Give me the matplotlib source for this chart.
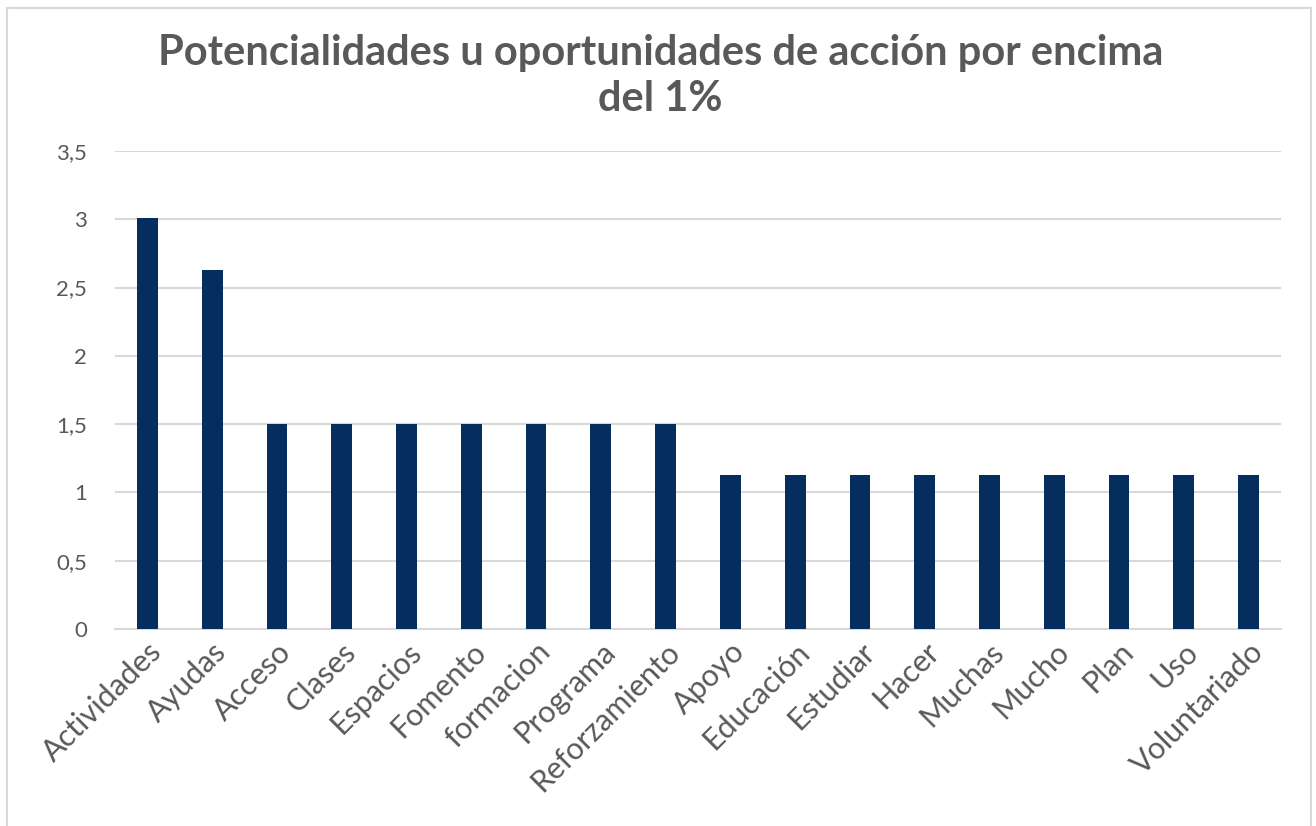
import numpy as np
import matplotlib.pyplot as plt
from matplotlib.patches import Rectangle
from matplotlib.ticker import FuncFormatter

categorias = ['Actividades', 'Ayudas', 'Acceso', 'Clases', 'Espacios', 'Fomento',
              'formacion', 'Programa', 'Reforzamiento', 'Apoyo', 'Educación',
              'Estudiar', 'Hacer', 'Muchas', 'Mucho', 'Plan', 'Uso', 'Voluntariado']
valores = [3.01, 2.63, 1.5, 1.5, 1.5, 1.5, 1.5, 1.5, 1.5,
           1.13, 1.13, 1.13, 1.13, 1.13, 1.13, 1.13, 1.13, 1.13]
ticks_y = [0, 0.5, 1, 1.5, 2, 2.5, 3, 3.5]

gris = '#595959'
plt.rcParams['font.family'] = ['Lato', 'DejaVu Sans']

fig = plt.figure(figsize=(13.16, 8.26), dpi=100)
ax = fig.add_axes([0.0874, 0.2385, 0.886, 0.5787])

# marco del gráfico
fig.patches.append(Rectangle((0.005, -0.01), 0.991, 1.0, transform=fig.transFigure,
                             fill=False, edgecolor='#d9d9d9', linewidth=1.5))

x = np.arange(len(categorias))
ax.bar(x, valores, width=0.32, color='#052e5f', zorder=3)

ax.set_xlim(-0.5, len(categorias) - 0.5)
ax.set_ylim(0, 3.5)
ax.set_yticks(ticks_y)
ax.yaxis.set_major_formatter(FuncFormatter(lambda v, p: ('%g' % v).replace('.', ',')))
ax.grid(axis='y', color='#d9d9d9', linewidth=1.5, zorder=0)
for s in ['top', 'right', 'left']:
    ax.spines[s].set_visible(False)
ax.spines['bottom'].set_color('#d9d9d9')
ax.spines['bottom'].set_linewidth(1.5)
ax.tick_params(axis='both', length=0, colors=gris, labelsize=16)
ax.tick_params(axis='y', pad=20)
ax.tick_params(axis='x', pad=6)

ax.set_xticks(x)
ax.set_xticklabels(categorias, rotation=45, ha='right', rotation_mode='anchor', fontsize=22)

fig.text(0.502, 0.908, 'Potencialidades u oportunidades de acción por encima\ndel 1%',
         ha='center', va='center', fontsize=30, fontweight='bold', color=gris,
         linespacing=1.25)

fig.savefig('out.png', dpi=100)
